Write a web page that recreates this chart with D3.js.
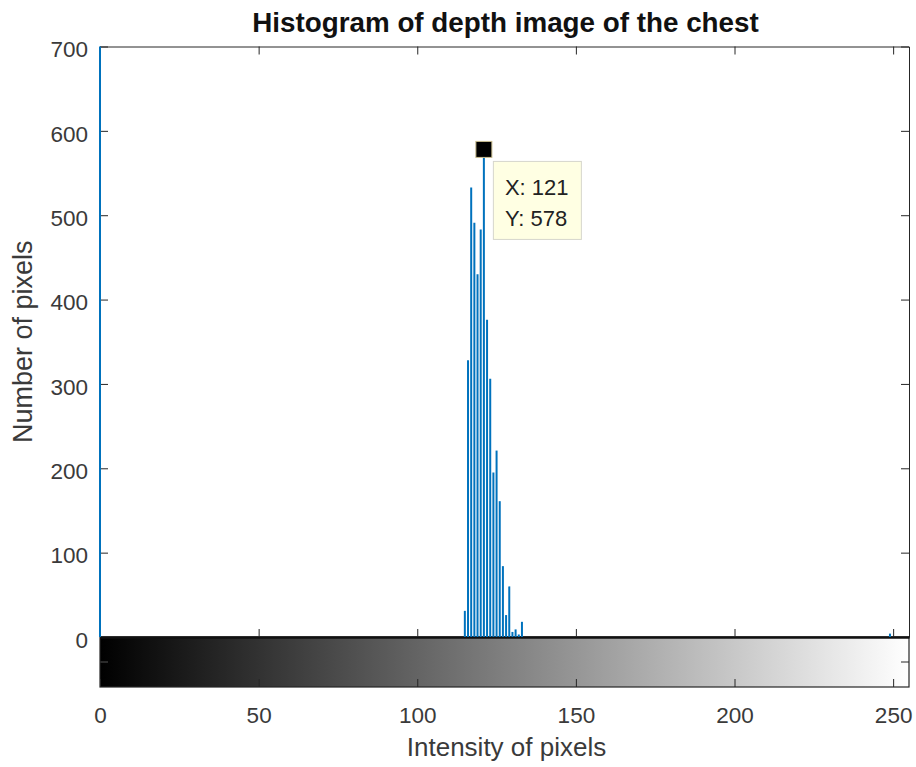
<!DOCTYPE html>
<html>
<head>
<meta charset="utf-8">
<script src="https://cdn.jsdelivr.net/npm/d3@7"></script>
<style>
  html, body { margin: 0; padding: 0; background: #fff; }
  svg { display: block; }
  text { font-family: "Liberation Sans", Arial, Helvetica, sans-serif; }
</style>
</head>
<body>
<svg id="chart" width="916" height="767"></svg>
<script>
// ---- data ----
const intensity = [0, 115, 116, 117, 118, 119, 120, 121, 122, 123, 124, 125, 126, 127, 128, 129, 130, 131, 132, 133, 249];
const counts    = [15000, 31, 328, 533, 491, 430, 483, 578, 376, 306, 195, 221, 161, 84, 26, 60, 6, 9, 3, 18, 4];
const xTicks = [0, 50, 100, 150, 200, 250];
const yTicks = [0, 100, 200, 300, 400, 500, 600, 700];
const titleText = "Histogram of depth image of the chest";
const xLabel = "Intensity of pixels";
const yLabel = "Number of pixels";
const tipX = 121, tipY = 578;

// ---- layout ----
const L = 100, R = 909, T = 46.5, B = 637, CB = 687;
const svg = d3.select("#chart");
const x = d3.scaleLinear().domain([0, 255]).range([L, R]);
const y = d3.scaleLinear().domain([0, 700]).range([B, T]);
const axisColor = "#262626";
const textColor = "#3a3a3a";

// ---- colorbar ----
const defs = svg.append("defs");
const grad = defs.append("linearGradient").attr("id", "gray").attr("x1", "0%").attr("x2", "100%");
grad.append("stop").attr("offset", "0%").attr("stop-color", "#000");
grad.append("stop").attr("offset", "100%").attr("stop-color", "#fff");
defs.append("clipPath").attr("id", "plotClip")
  .append("rect").attr("x", L - 2).attr("y", T).attr("width", R - L + 4).attr("height", B - T);

svg.append("rect").attr("x", x(0)).attr("y", B).attr("width", x(255) - x(0)).attr("height", CB - B)
  .attr("fill", "url(#gray)");

// colorbar bottom axis with labels
const cbAxis = svg.append("g").attr("transform", `translate(0,${CB})`)
  .call(d3.axisBottom(x).tickValues(xTicks).tickSize(-8).tickSizeOuter(0).tickPadding(0));
cbAxis.select(".domain").remove();
cbAxis.selectAll(".tick line").attr("stroke", axisColor);
cbAxis.selectAll(".tick text").attr("fill", textColor).attr("font-size", "22.5px")
  .attr("y", 36).attr("dy", 0);

// colorbar side ticks
svg.append("line").attr("x1", L).attr("x2", L + 8).attr("y1", (B + CB) / 2).attr("y2", (B + CB) / 2)
  .attr("stroke", "#555").attr("stroke-width", 1);
svg.append("line").attr("x1", R - 8).attr("x2", R).attr("y1", (B + CB) / 2).attr("y2", (B + CB) / 2)
  .attr("stroke", axisColor).attr("stroke-width", 1);
svg.append("rect").attr("x", L).attr("y", B).attr("width", R - L).attr("height", CB - B)
  .attr("fill", "none").attr("stroke", axisColor).attr("stroke-width", 1.2);

// ---- main axes ----
const yAxisL = svg.append("g").attr("transform", `translate(${L},0)`)
  .call(d3.axisLeft(y).tickValues(yTicks).tickSize(-8).tickSizeOuter(0).tickPadding(12));
yAxisL.select(".domain").attr("stroke", axisColor);
yAxisL.selectAll(".tick line").attr("stroke", axisColor);
yAxisL.selectAll(".tick text").attr("fill", textColor).attr("font-size", "22.5px").attr("y", 3);

const yAxisR = svg.append("g").attr("transform", `translate(${R},0)`)
  .call(d3.axisRight(y).tickValues(yTicks).tickSize(-8).tickSizeOuter(0).tickFormat(""));
yAxisR.select(".domain").attr("stroke", axisColor);
yAxisR.selectAll(".tick line").attr("stroke", axisColor);

const xAxisT = svg.append("g").attr("transform", `translate(0,${T})`)
  .call(d3.axisTop(x).tickValues(xTicks).tickSize(-8).tickSizeOuter(0).tickFormat(""));
xAxisT.select(".domain").attr("stroke", axisColor);
xAxisT.selectAll(".tick line").attr("stroke", axisColor);

const xAxisB = svg.append("g").attr("transform", `translate(0,${B})`)
  .call(d3.axisBottom(x).tickValues(xTicks).tickSize(-8).tickSizeOuter(0).tickFormat(""));
xAxisB.select(".domain").attr("stroke", "#111").attr("stroke-width", 2.5);
xAxisB.selectAll(".tick line").attr("stroke", axisColor);

// ---- stems ----
const idx = d3.range(intensity.length);
svg.append("g").attr("clip-path", "url(#plotClip)")
  .selectAll("line").data(idx).join("line")
  .attr("x1", i => x(intensity[i])).attr("x2", i => x(intensity[i]))
  .attr("y1", y(0)).attr("y2", i => y(counts[i]))
  .attr("stroke", "#0072BD").attr("stroke-width", 2);

// ---- data tip ----
const px = x(tipX), py = y(tipY);
svg.append("rect").attr("x", px - 8).attr("y", py - 8).attr("width", 16).attr("height", 16)
  .attr("fill", "#000").attr("stroke", "#c9bd8f").attr("stroke-width", 1);
const tip = svg.append("g");
tip.append("rect").attr("x", px + 9.5).attr("y", py + 12).attr("width", 88).attr("height", 78)
  .attr("fill", "#ffffe3").attr("stroke", "#d6d6cc").attr("stroke-width", 1);
tip.append("text").attr("x", px + 21).attr("y", py + 46).attr("font-size", "22px").attr("fill", "#222")
  .text(`X: ${tipX}`);
tip.append("text").attr("x", px + 21).attr("y", py + 77).attr("font-size", "22px").attr("fill", "#222")
  .text(`Y: ${tipY}`);

// ---- titles ----
svg.append("text").attr("x", (L + R) / 2 + 1).attr("y", 31.5).attr("text-anchor", "middle")
  .attr("font-size", "27.8px").attr("font-weight", "bold").attr("fill", "#111").text(titleText);
svg.append("text").attr("x", (L + R) / 2 + 2).attr("y", 756).attr("text-anchor", "middle")
  .attr("font-size", "26px").attr("fill", textColor).text(xLabel);
svg.append("text").attr("transform", `translate(32,${(T + B) / 2}) rotate(-90)`).attr("text-anchor", "middle")
  .attr("font-size", "27px").attr("fill", textColor).text(yLabel);
</script>
</body>
</html>
